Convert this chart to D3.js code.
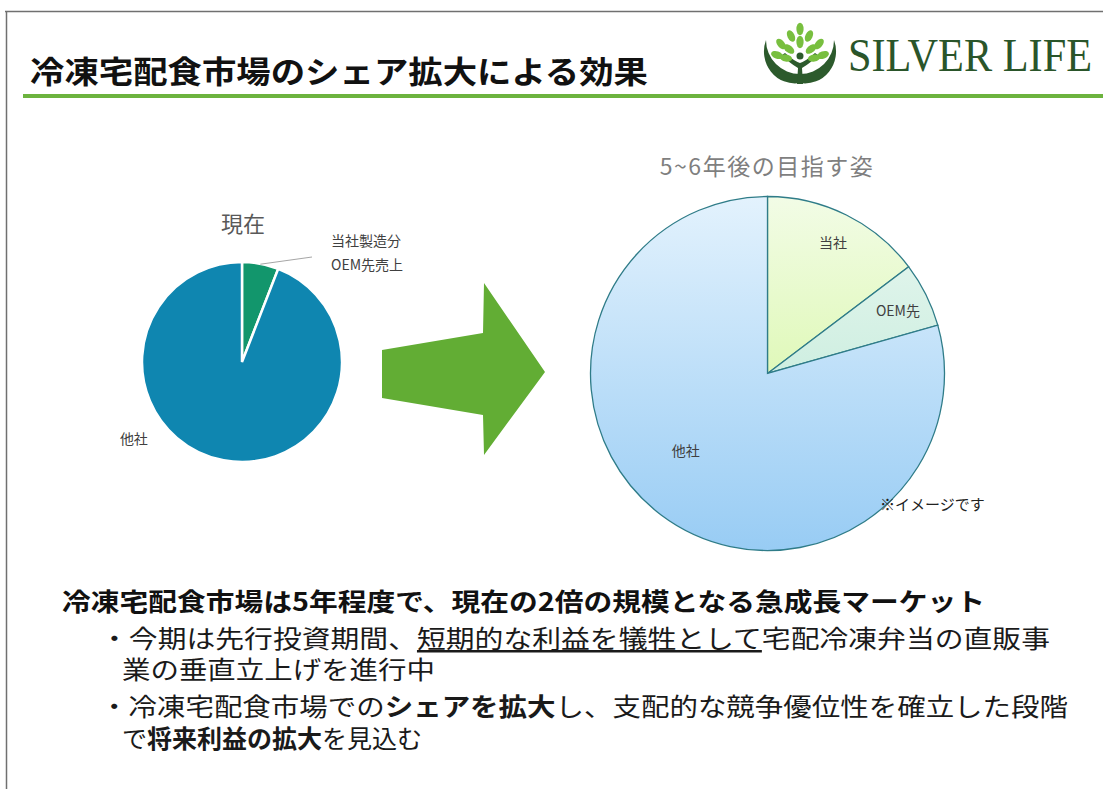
<!DOCTYPE html>
<html>
<head>
<meta charset="utf-8">
<script src="https://cdn.jsdelivr.net/npm/d3@7"></script>
<style>
  body { margin: 0; background: #fff; }
  svg { display: block; font-family: "Noto Sans CJK JP", "Noto Sans", sans-serif; }
</style>
</head>
<body>
<script>
// data
var nowLabels = ['当社製造分OEM先売上', '他社']
var nowValues = [5.9, 94.1]
var futureLabels = ['当社', 'OEM先', '他社']
var futureValues = [14.7, 5.9, 79.4]
var titleText = '冷凍宅配食市場のシェア拡大による効果'
var nowTitle = '現在'
var futureTitle = '5~6年後の目指す姿'

var W = 1103, H = 789
var svg = d3.select('body').append('svg').attr('width', W).attr('height', H)

// slide frame
svg.append('line').attr('x1', 5).attr('x2', W).attr('y1', 11.5).attr('y2', 11.5)
  .attr('stroke', '#707070').attr('stroke-width', 1.5)
svg.append('line').attr('x1', 6.5).attr('x2', 6.5).attr('y1', 11).attr('y2', H)
  .attr('stroke', '#707070').attr('stroke-width', 1.5)

// header
svg.append('text').attr('x', 30).attr('y', 69).attr('dominant-baseline', 'central')
  .attr('font-size', 31).attr('font-weight', 'bold').attr('fill', '#111')
  .attr('textLength', 618).attr('lengthAdjust', 'spacingAndGlyphs')
  .text(titleText)
svg.append('rect').attr('x', 23).attr('y', 94).attr('width', W - 23).attr('height', 4)
  .attr('fill', '#6cb33e')

// logo
var logo = svg.append('g')
logo.append('path')
  .attr('d', 'M766,40 A34,34 0 0 0 834,40 A31,32 0 0 1 800,83 A31,32 0 0 1 766,40 Z')
  .attr('fill', '#2c5a2c')
logo.append('path') // trunk
  .attr('d', 'M797,84 L803,84 L802,68 Q812,62 818,55 L815,53 Q806,61 800,63 Q794,61 785,53 L782,55 Q788,62 798,68 Z')
  .attr('fill', '#2c5a2c')
logo.append('circle').attr('cx', 800).attr('cy', 56).attr('r', 3.5).attr('fill', '#2c5a2c')
var leaves = [[800,29,0],[791,36,-25],[809,36,25],[800,42,0],[781,44,-40],[819,44,40],[789,49,-50],[811,49,50],[777,55,-70],[823,55,70],[786,58,-80],[814,58,80]]
logo.selectAll('ellipse.leaf').data(leaves).enter().append('ellipse')
  .attr('class', 'leaf')
  .attr('rx', 3.6).attr('ry', 6.2)
  .attr('transform', d => `translate(${d[0]},${d[1]}) rotate(${d[2]})`)
  .attr('fill', '#78bf3f')
svg.append('text').attr('x', 848).attr('y', 71)
  .attr('font-family', '"Liberation Serif", "DejaVu Serif", serif')
  .attr('font-size', 46).attr('fill', '#2a552a')
  .attr('textLength', 244).attr('lengthAdjust', 'spacingAndGlyphs')
  .text('SILVER LIFE')

var pie = d3.pie().sort(null)

// left pie: now
var nowC = [242, 362], nowR = 100
var nowArc = d3.arc().innerRadius(0).outerRadius(nowR)
var nowColors = d3.scaleOrdinal().domain(nowLabels).range(['#12966c', '#0f86b0'])
var gNow = svg.append('g').attr('transform', `translate(${nowC[0]}, ${nowC[1]})`)
var nowArcs = pie(nowValues)
gNow.selectAll('path').data(nowArcs).enter().append('path')
  .attr('d', nowArc)
  .attr('fill', (d, i) => nowColors(nowLabels[i]))
  .attr('stroke', '#fff').attr('stroke-width', 2.5)
svg.append('text').attr('x', 243).attr('y', 222).attr('text-anchor', 'middle')
  .attr('dominant-baseline', 'central').attr('font-size', 22).attr('fill', '#595959')
  .text(nowTitle)
// leader + label for small slice
var p0 = d3.pointRadial((nowArcs[0].startAngle + nowArcs[0].endAngle) / 2, nowR * 0.995)
gNow.append('line').attr('x1', p0[0]).attr('y1', p0[1]).attr('x2', 70).attr('y2', -105)
  .attr('stroke', '#a6a6a6').attr('stroke-width', 1)
var nl = svg.append('text').attr('font-size', 14).attr('fill', '#404040')
nl.append('tspan').attr('x', 331).attr('y', 246).text(nowLabels[0].slice(0, 5))
nl.append('tspan').attr('x', 331).attr('y', 270).text(nowLabels[0].slice(5))
var o1 = d3.pointRadial(235 * Math.PI / 180, 132)
gNow.append('text').attr('x', o1[0]).attr('y', o1[1]).attr('text-anchor', 'middle')
  .attr('dominant-baseline', 'central').attr('font-size', 14).attr('fill', '#404040')
  .text(nowLabels[1])

// arrow
var arrowPts = [[382, 350], [483, 333], [484, 283], [545, 372], [484, 455], [483, 415], [382, 398]]
svg.append('path').attr('d', d3.line()(arrowPts) + 'Z').attr('fill', '#62ad34')

// right pie: future
var futC = [767.5, 373.5], futR = 177
var futArc = d3.arc().innerRadius(0).outerRadius(futR)
var defs = svg.append('defs')
var grads = [['g0', '#f2fce6', '#cdf58c'], ['g1', '#eaf8f2', '#b3e5cf'], ['g2', '#e3f2fd', '#98ccf4']]
grads.forEach(g => {
  var lg = defs.append('linearGradient').attr('id', g[0]).attr('gradientUnits', 'userSpaceOnUse')
    .attr('x1', 0).attr('x2', 0).attr('y1', -futR).attr('y2', futR)
  lg.append('stop').attr('offset', 0).attr('stop-color', g[1])
  lg.append('stop').attr('offset', 1).attr('stop-color', g[2])
})
var gFut = svg.append('g').attr('transform', `translate(${futC[0]}, ${futC[1]})`)
var futArcs = pie(futureValues)
gFut.selectAll('path').data(futArcs).enter().append('path')
  .attr('d', futArc)
  .attr('fill', (d, i) => `url(#g${i})`)
  .attr('stroke', '#2f7c88').attr('stroke-width', 1.3)
var labR = [147, 145, 112], labNudge = [0, 0.01, 0.17]
gFut.selectAll('text').data(futArcs).enter().append('text')
  .attr('transform', (d, i) => 'translate(' + d3.pointRadial((d.startAngle + d.endAngle) / 2 + labNudge[i], labR[i]) + ')')
  .attr('text-anchor', 'middle').attr('dominant-baseline', 'central')
  .attr('font-size', 14).attr('fill', '#404040')
  .text((d, i) => futureLabels[i])
svg.append('text').attr('x', 767).attr('y', 165).attr('text-anchor', 'middle')
  .attr('dominant-baseline', 'central').attr('font-size', 23).attr('fill', '#7f7f7f')
  .attr('letter-spacing', 1.5)
  .text(futureTitle)
svg.append('text').attr('x', 880).attr('y', 503).attr('dominant-baseline', 'central')
  .attr('font-size', 15).attr('fill', '#222').text('※イメージです')

// bottom text
svg.append('text').attr('x', 62).attr('y', 600).attr('dominant-baseline', 'central')
  .attr('font-size', 25).attr('font-weight', 'bold').attr('fill', '#111')
  .attr('textLength', 923).attr('lengthAdjust', 'spacingAndGlyphs')
  .text('冷凍宅配食市場は5年程度で、現在の2倍の規模となる急成長マーケット')

var lines = [
  {x: 100, y: 637, len: 950, parts: [['・今期は先行投資期間、'], ['短期的な利益を犠牲として', 'u'], ['宅配冷凍弁当の直販事']]},
  {x: 122, y: 668, len: 313, parts: [['業の垂直立上げを進行中']]},
  {x: 100, y: 705, len: 968, parts: [['・冷凍宅配食市場での'], ['シェアを拡大', 'b'], ['し、支配的な競争優位性を確立した段階']]},
  {x: 122, y: 737, len: 300, parts: [['で'], ['将来利益の拡大', 'b'], ['を見込む']]}
]
lines.forEach(l => {
  var t = svg.append('text').attr('x', l.x).attr('y', l.y).attr('dominant-baseline', 'central')
    .attr('font-size', 25).attr('fill', '#1a1a1a')
    .attr('textLength', l.len).attr('lengthAdjust', 'spacingAndGlyphs')
  l.parts.forEach(p => {
    var s = t.append('tspan').text(p[0])
    if (p[1] == 'b') s.attr('font-weight', 'bold')
    if (p[1] == 'u') s.style('text-decoration', 'underline')
  })
})
</script>
</body>
</html>
